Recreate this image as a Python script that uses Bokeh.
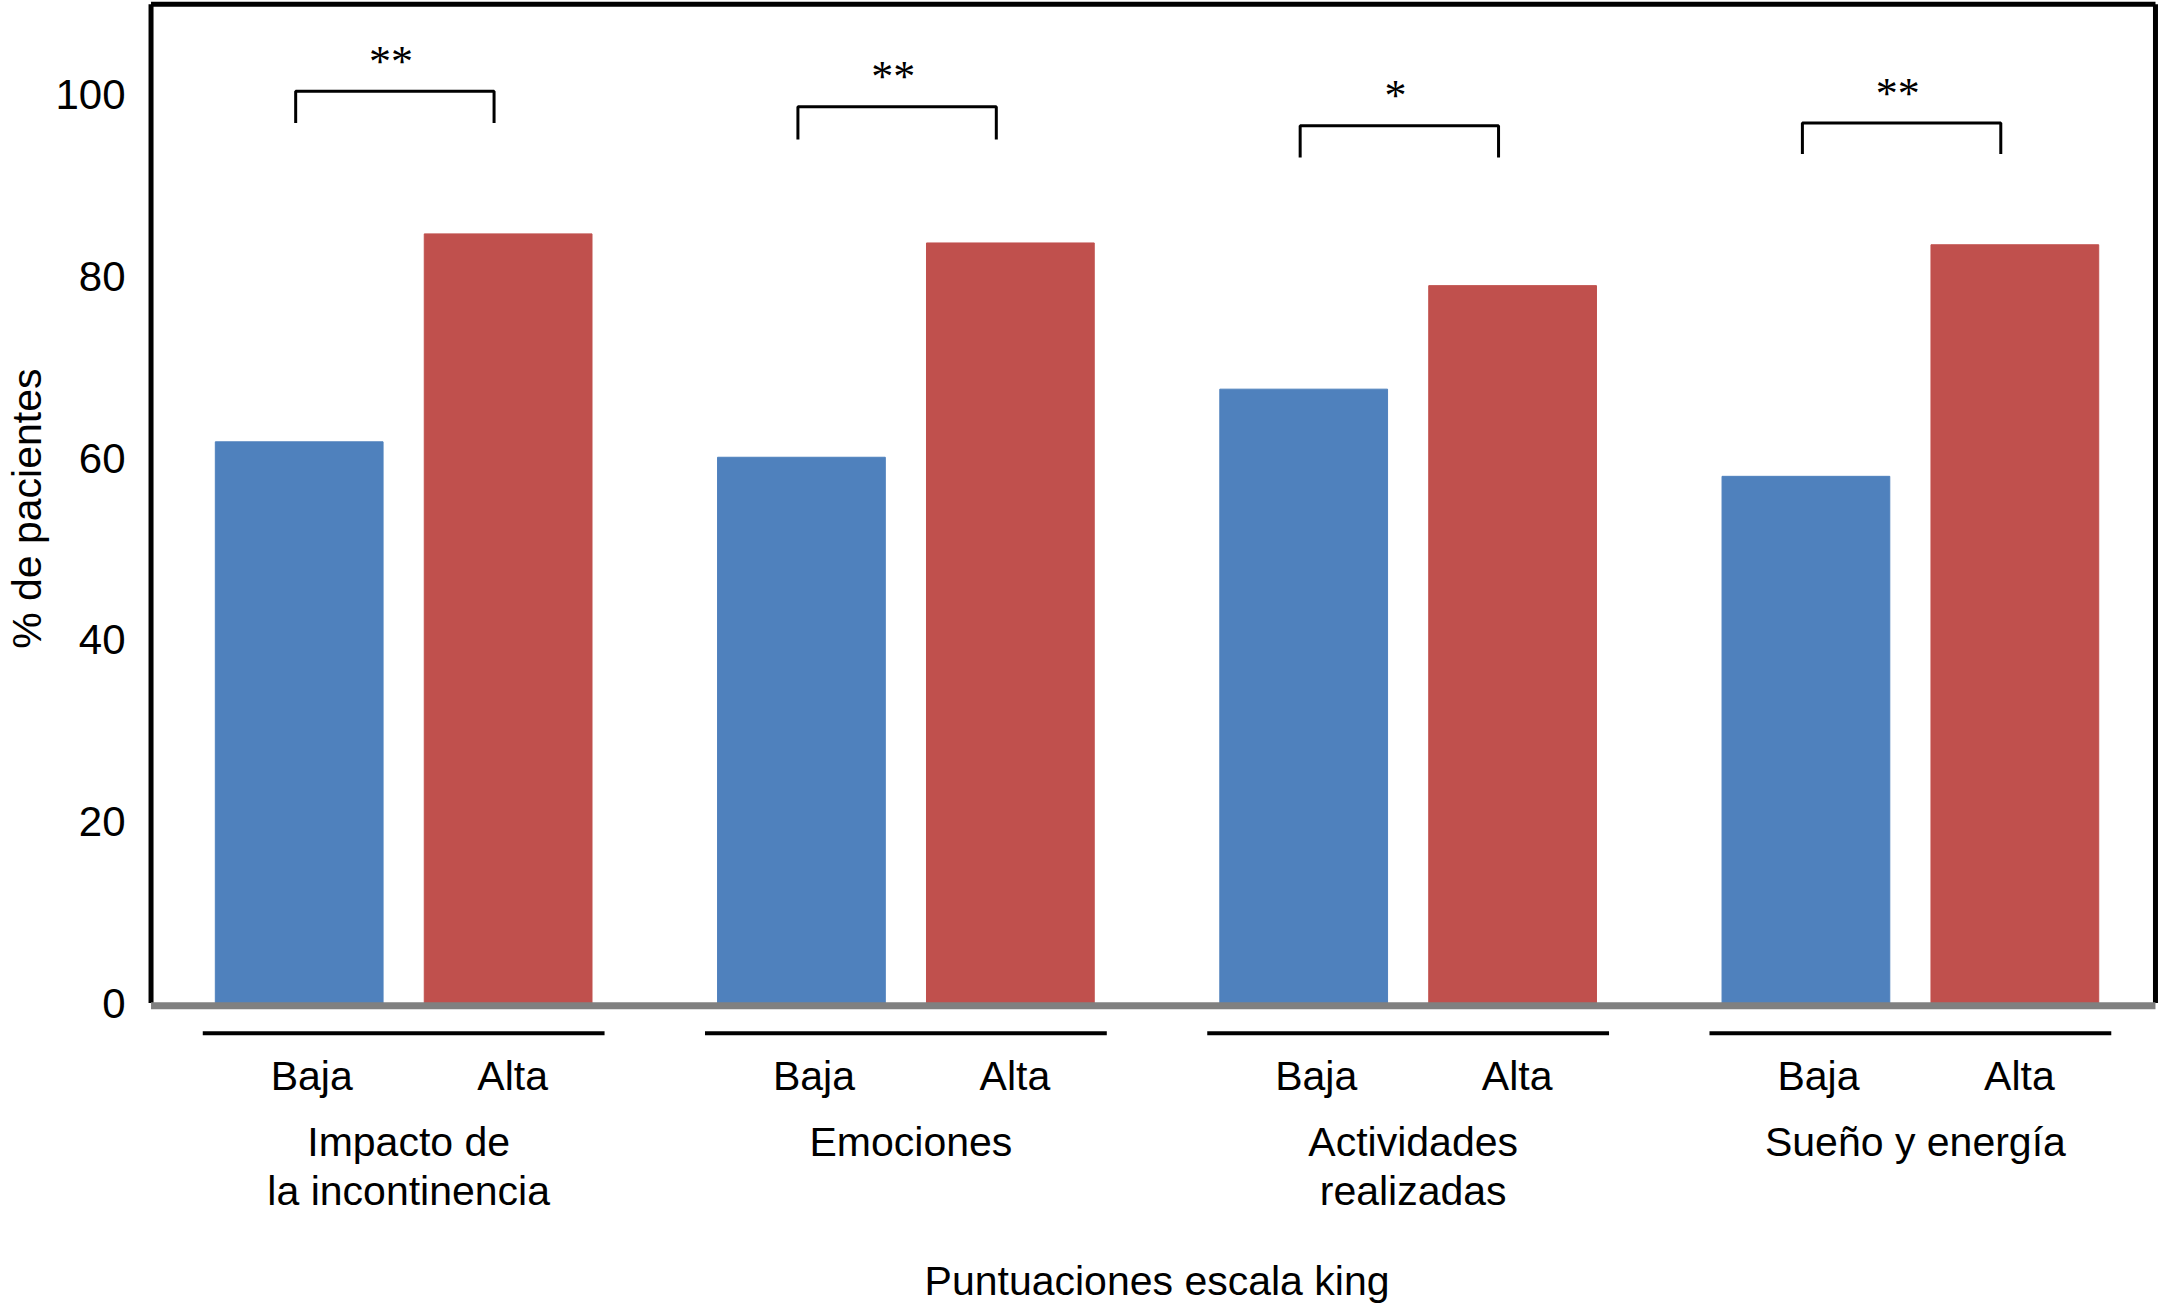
import numpy as np
from bokeh.plotting import figure
from bokeh.models import Range1d, FixedTicker, Title
from bokeh.core.properties import value
from bokeh.embed import file_html
from bokeh.resources import INLINE

# ---------------- data ----------------
categories = ["Impacto de\nla incontinencia", "Emociones", "Actividades\nrealizadas", "Sueño y energía"]
levels = ["Baja", "Alta"]
baja = [61.8, 60.1, 67.6, 58.0]
alta = [84.7, 83.7, 79.0, 83.5]
significance = ["**", "**", "*", "**"]
bracket_top = [100.4, 98.7, 96.6, 96.9]
bracket_leg = [96.9, 95.1, 93.1, 93.5]
y_ticks = [0, 20, 40, 60, 80, 100]
x_title = "Puntuaciones escala king"
y_title = "% de pacientes"

# ---------------- style ----------------
BLUE = "#4F81BD"
RED = "#C0504D"
FONT = "Liberation Sans"
FS = "41px"

n = len(categories)
g = np.arange(n, dtype=float)
off = 0.208
bw = 0.334

p = figure(width=2160, height=1304,
           x_range=Range1d(-0.518, n - 0.502), y_range=Range1d(-33.2, 110.4),
           x_axis_location=None, output_backend="svg", toolbar_location=None,
           min_border_left=140, min_border_right=0, min_border_top=0, min_border_bottom=0)
p.grid.visible = False
p.outline_line_color = None
p.background_fill_color = "white"

ax = p.yaxis[0]
ax.ticker = FixedTicker(ticks=y_ticks)
ax.axis_line_color = None
ax.major_tick_line_color = None
ax.minor_tick_line_color = None
ax.major_label_text_font = FONT
ax.major_label_text_font_size = "42px"
ax.major_label_text_color = "black"
ax.major_label_standoff = 12

# y title as a left-side title
p.add_layout(Title(text=y_title, align="right", offset=368, vertical_align="middle",
                   text_font=FONT, text_font_size=FS, text_font_style="normal",
                   text_color="black", standoff=4), "left")

# bars
p.vbar(x=g - off, top=baja, width=bw, bottom=0, fill_color=BLUE, line_color=BLUE, line_width=1)
p.vbar(x=g + off, top=alta, width=bw, bottom=0, fill_color=RED, line_color=RED, line_width=1)

# frame box (top, left, right) and gray base axis
x_lo = -0.503
x_hi = n - 0.512
y_hi = 110.0
p.segment(x0=[x_lo, x_lo, x_hi], y0=[y_hi, y_hi, y_hi], x1=[x_hi, x_lo, x_hi], y1=[y_hi, 0, 0],
          line_color="black", line_width=5)
p.segment(x0=[x_lo], y0=[-0.3], x1=[x_hi], y1=[-0.3], line_color="#808080", line_width=7)

# significance brackets
bxl = g - 0.215
bxr = g + 0.18
xs = [[a, a, b, b] for a, b in zip(bxl, bxr)]
ys = [[l, t, t, l] for t, l in zip(bracket_top, bracket_leg)]
p.multi_line(xs=xs, ys=ys, line_color="black", line_width=3)
p.text(x=g - 0.025, y=[t + 3.3 for t in bracket_top], text=significance,
       text_font=value("Liberation Serif"), text_font_size=value("44px"),
       text_align="center", text_baseline="alphabetic", text_color="black")

# group underlines
p.segment(x0=g - 0.4, y0=[-3.34] * n, x1=g + 0.4, y1=[-3.34] * n, line_color="black", line_width=4)

# Baja / Alta labels
lx = np.concatenate([g - 0.183, g + 0.217])
lt = [levels[0]] * n + [levels[1]] * n
p.text(x=lx, y=[-8.04] * (2 * n), text=lt, text_font=value(FONT), text_font_size=value(FS),
       text_align="center", text_baseline="middle", text_color="black")

# category labels (up to two lines)
line1 = [c.split("\n")[0] for c in categories]
line2 = [c.split("\n")[1] if "\n" in c else "" for c in categories]
p.text(x=g + 0.01, y=[-15.35] * n, text=line1, text_font=value(FONT), text_font_size=value(FS),
       text_align="center", text_baseline="middle", text_color="black")
p.text(x=g + 0.01, y=[-20.7] * n, text=line2, text_font=value(FONT), text_font_size=value(FS),
       text_align="center", text_baseline="middle", text_color="black")

# x title
p.text(x=[(n - 1) / 2.0], y=[-30.6], text=[x_title], text_font=value(FONT), text_font_size=value(FS),
       text_align="center", text_baseline="middle", text_color="black")

open("out.html", "w").write(file_html(p, INLINE))
